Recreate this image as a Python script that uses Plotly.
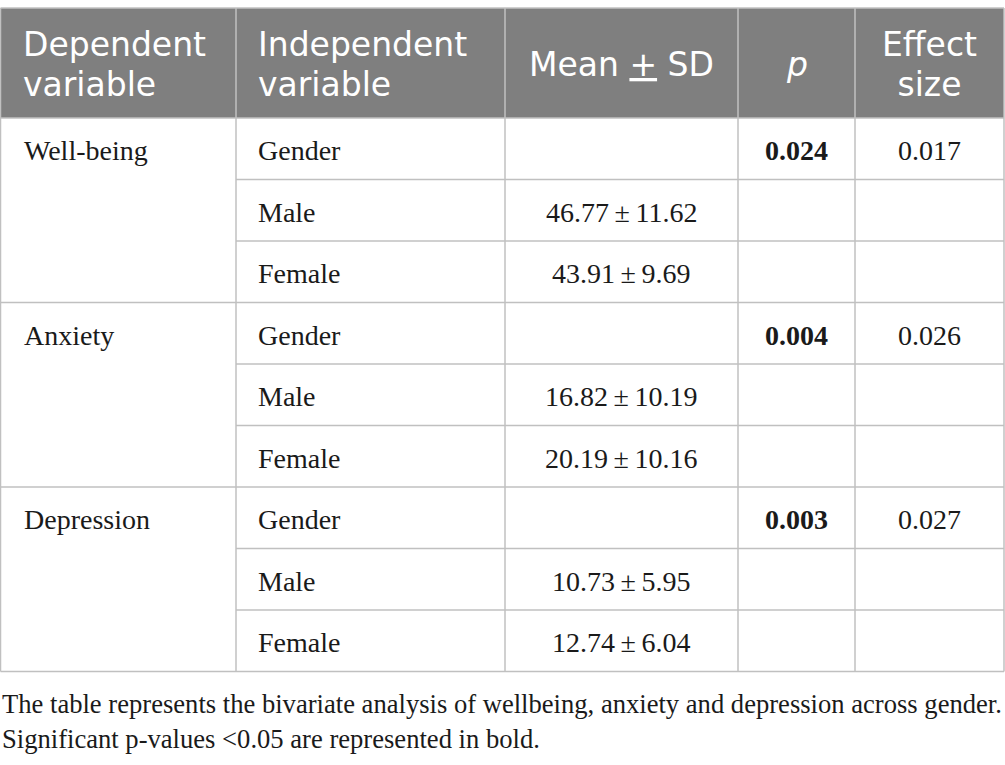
import plotly.graph_objs as go

# table content
header = ['Dependent<br>variable', 'Independent<br>variable',
          "Mean <span style='text-decoration:underline'>+</span> SD", '<i>p</i>', 'Effect<br>size']
dependent = ['Well-being', 'Anxiety', 'Depression']
independent = ['Gender', 'Male', 'Female']
means = [[None, 46.77, 43.91], [None, 16.82, 20.19], [None, 10.73, 12.74]]
sds = [[None, 11.62, 9.69], [None, 10.19, 10.16], [None, 5.95, 6.04]]
p_values = [0.024, 0.004, 0.003]
effect_sizes = [0.017, 0.026, 0.027]
footnote = ['The table represents the bivariate analysis of wellbeing, anxiety and depression across gender.',
            'Significant p-values <0.05 are represented in bold.']

# layout of the grid (pixels)
W, H = 1005, 765
col_edges = [0.5, 236, 505, 738, 855, 1004]
top, head_bottom = 8, 118
row_h = 61.5
n_rows = len(dependent) * len(independent)
bottom = head_bottom + n_rows * row_h
grid_col = '#c0c0c0'
head_col = '#7f7f7f'
serif = 'Liberation Serif'
sans = 'DejaVu Sans'

shapes = []
annotations = []

# header background
shapes.append(dict(type='rect', x0=col_edges[0], x1=col_edges[-1], y0=top, y1=head_bottom,
                   fillcolor=head_col, line=dict(width=0), layer='below'))

def hline(x0, x1, y):
    shapes.append(dict(type='line', x0=x0, x1=x1, y0=y, y1=y, line=dict(color=grid_col, width=1.5)))

def vline(x, y0, y1):
    shapes.append(dict(type='line', x0=x, x1=x, y0=y0, y1=y1, line=dict(color=grid_col, width=1.5)))

# outer border and column dividers
hline(col_edges[0], col_edges[-1], top)
hline(col_edges[0], col_edges[-1], bottom)
for x in col_edges:
    vline(x, top, bottom)

# row dividers: full width between groups, partial inside a group
for r in range(1, n_rows + 1):
    y = head_bottom + (r - 1) * row_h
    if (r - 1) % len(independent) == 0:
        hline(col_edges[0], col_edges[-1], y)
    else:
        hline(col_edges[1], col_edges[-1], y)

def text(x, y, s, size, family, color='#1a1a1a', align='left'):
    annotations.append(dict(x=x, y=y, text=s, showarrow=False, xanchor=align, yanchor='middle',
                            align=align, font=dict(size=size, family=family, color=color)))

# header text: base size 31 keeps the 40px line gap, glyphs drawn a bit larger
head_mid = (top + head_bottom) / 2 + 1
for i, s in enumerate(header):
    big = '<br>'.join("<span style='font-size:33px'>%s</span>" % part for part in s.split('<br>'))
    if i < 2:
        text(col_edges[i] + 20, head_mid, big, 31, sans, 'white')
    else:
        text((col_edges[i] + col_edges[i + 1]) / 2, head_mid, big, 31, sans, 'white', 'center')

# body text
bsize = 28
for g, dep in enumerate(dependent):
    for k, ind in enumerate(independent):
        r = g * len(independent) + k
        yc = head_bottom + r * row_h + row_h / 2 + 2
        if k == 0:
            text(col_edges[0] + 21, yc, dep, bsize, serif)
            text((col_edges[3] + col_edges[4]) / 2, yc, '<b>%.3f</b>' % p_values[g], bsize, serif, align='center')
            text((col_edges[4] + col_edges[5]) / 2, yc, '%.3f' % effect_sizes[g], bsize, serif, align='center')
        text(col_edges[1] + 20, yc, ind, bsize, serif)
        if means[g][k] is not None:
            s = '%.2f\u2009±\u2009%.2f' % (means[g][k], sds[g][k])
            text((col_edges[2] + col_edges[3]) / 2, yc, s, bsize, serif, align='center')

# footnote
for i, line in enumerate(footnote):
    text(0, 704 + i * 35, line, 26.6, serif)

fig = go.Figure()
fig.update_layout(width=W, height=H, margin=dict(l=0, r=0, t=0, b=0),
                  paper_bgcolor='white', plot_bgcolor='white',
                  xaxis=dict(range=[0, W], visible=False, fixedrange=True),
                  yaxis=dict(range=[H, 0], visible=False, fixedrange=True),
                  shapes=shapes, annotations=annotations, showlegend=False)
fig.write_html('out.html', config={'displayModeBar': False},
               post_script="document.body.style.margin='0';document.body.style.overflow='hidden';")
